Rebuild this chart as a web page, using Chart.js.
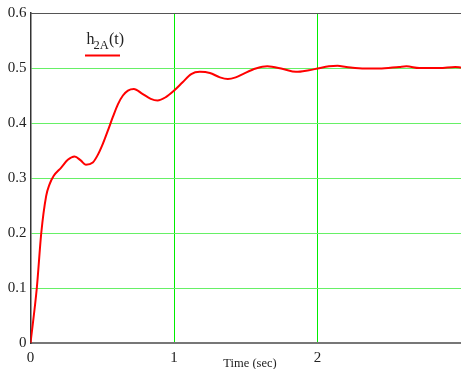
<!DOCTYPE html>
<html>
  <head>
    <script src="https://cdn.jsdelivr.net/npm/chart.js@4.4.1/dist/chart.umd.min.js"></script>
    <style>
      html, body { margin: 0; padding: 0; background: #fff; }
    </style>
  </head>
  <body>
    <canvas id="myChart" width="461" height="369"></canvas>
    <script>
      // time axis (sec) and response h2A(t)
      var timeValues = [0, 0.044, 0.075, 0.109, 0.132, 0.162, 0.214, 0.26, 0.307, 0.35, 0.386, 0.434,
        0.469, 0.504, 0.539, 0.574, 0.609, 0.644, 0.679, 0.72, 0.78, 0.838, 0.885, 0.943, 0.997, 1.06, 1.12, 1.18,
        1.25, 1.32, 1.375, 1.43, 1.48, 1.57, 1.65, 1.76, 1.85, 1.94, 2.0, 2.08, 2.14, 2.2, 2.33,
        2.43, 2.57, 2.62, 2.71, 2.85, 2.96, 3.0];
      var hValues = [0, 0.1, 0.2, 0.267, 0.288, 0.304, 0.319, 0.333, 0.339, 0.332, 0.324, 0.328,
        0.342, 0.362, 0.386, 0.411, 0.434, 0.450, 0.459, 0.462, 0.453, 0.444, 0.441, 0.447, 0.458, 0.474, 0.489, 0.493,
        0.491, 0.483, 0.480, 0.483, 0.489, 0.499, 0.503, 0.498, 0.493, 0.496, 0.499, 0.503, 0.504, 0.502, 0.499,
        0.499, 0.502, 0.503, 0.500, 0.500, 0.502, 0.501];
      var xTickLabels = ["0", "1", "2"];
      var yTickLabels = ["0", "0.1", "0.2", "0.3", "0.4", "0.5", "0.6"];
      var seriesName = ["h", "2A", "(t)"];
      var xTitle = "Time (sec)";

      var points = [];
      for (var i = 0; i < timeValues.length; i++) {
        points.push({ x: timeValues[i], y: hValues[i] });
      }

      // top frame line, legend and axis title
      var extras = {
        id: "extras",
        afterDraw: function (chart) {
          var ctx = chart.ctx;
          var area = chart.chartArea;
          ctx.save();
          ctx.strokeStyle = "#555";
          ctx.lineWidth = 1;
          ctx.beginPath();
          ctx.moveTo(area.left, area.top + 0.5);
          ctx.lineTo(area.right, area.top + 0.5);
          ctx.stroke();

          ctx.fillStyle = "#222";
          ctx.textBaseline = "alphabetic";
          ctx.font = "16px 'Liberation Serif'";
          ctx.fillText(seriesName[0], 86.5, 43.5);
          ctx.font = "12.5px 'Liberation Serif'";
          ctx.fillText(seriesName[1], 93.5, 49);
          ctx.font = "16px 'Liberation Serif'";
          ctx.fillText(seriesName[2], 109, 43.5);

          ctx.strokeStyle = "#ff0000";
          ctx.lineWidth = 2;
          ctx.beginPath();
          ctx.moveTo(85, 55.5);
          ctx.lineTo(120, 55.5);
          ctx.stroke();

          ctx.font = "12.5px 'Liberation Serif'";
          ctx.textAlign = "center";
          ctx.fillText(xTitle, 250, 367);
          ctx.restore();
        }
      };

      var gridX = ["rgba(0,0,0,0)", "#00ee00", "#00ee00", "rgba(0,0,0,0)"];
      var gridY = ["rgba(0,0,0,0)", "#66f066", "#66f066", "#66f066", "#66f066", "#66f066", "rgba(0,0,0,0)"];

      var ctx = document.getElementById("myChart").getContext("2d");
      var chart = new Chart(ctx, {
        type: "line",
        data: {
          datasets: [
            {
              label: "h2A(t)",
              data: points,
              borderColor: "#ff0000",
              borderWidth: 2,
              pointRadius: 0,
              fill: false,
              cubicInterpolationMode: "monotone"
            }
          ]
        },
        options: {
          responsive: false,
          animation: false,
          maintainAspectRatio: false,
          layout: { padding: { top: 13, right: 0, left: 0, bottom: 0 } },
          plugins: { legend: { display: false }, tooltip: { enabled: false } },
          scales: {
            x: {
              type: "linear",
              min: 0,
              max: 3,
              afterFit: function (scale) {
                scale.height = 26;
                scale.paddingLeft = 0;
                scale.paddingRight = 0;
              },
              ticks: {
                stepSize: 1,
                autoSkip: false,
                padding: 6,
                maxRotation: 0,
                color: "#222",
                font: { family: "'Liberation Serif'", size: 15 },
                callback: function (value, index) {
                  return index < xTickLabels.length ? xTickLabels[index] : "";
                }
              },
              grid: {
                drawTicks: false,
                lineWidth: 1,
                color: gridX
              },
              border: { color: "#777", width: 2 }
            },
            y: {
              min: 0,
              max: 0.6,
              afterFit: function (scale) { scale.width = 30.5; },
              ticks: {
                stepSize: 0.1,
                autoSkip: false,
                padding: 4,
                color: "#222",
                font: { family: "'Liberation Serif'", size: 15 },
                callback: function (value, index) {
                  return yTickLabels[index];
                }
              },
              grid: {
                drawTicks: false,
                lineWidth: 1,
                color: gridY
              },
              border: { color: "#333", width: 1.5 }
            }
          }
        },
        plugins: [extras]
      });
    </script>
  </body>
</html>
